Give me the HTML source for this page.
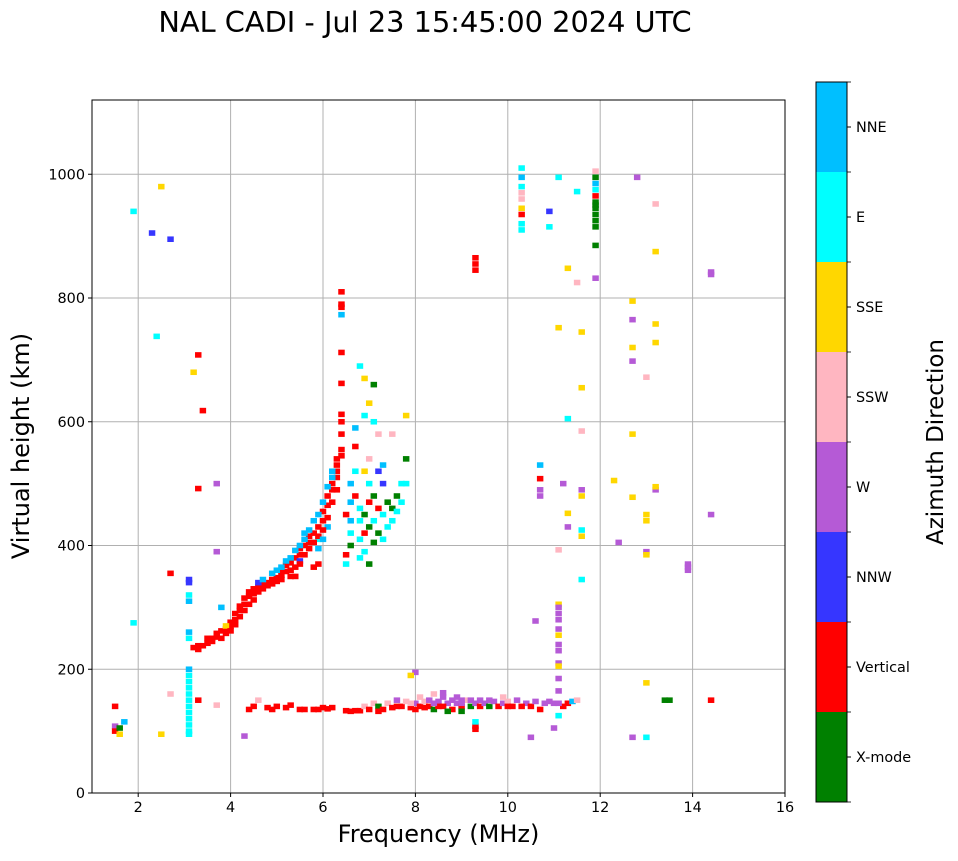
<!DOCTYPE html>
<html><head><meta charset="utf-8"><style>
body{margin:0;background:#fff;font-family:"DejaVu Sans","Liberation Sans",sans-serif}
svg text{font-family:"DejaVu Sans","Liberation Sans",sans-serif}
</style></head><body>
<svg id="chart" width="958" height="857" xmlns="http://www.w3.org/2000/svg">
<text x="425" y="32" font-size="28.8" text-anchor="middle">NAL CADI - Jul 23 15:45:00 2024 UTC</text>
<g id="grid"></g><g id="marks"></g><g id="axes"></g><g id="cbar"></g>
</svg>
<script>
const xTicks=[2,4,6,8,10,12,14,16];
const yTicks=[0,200,400,600,800,1000];
const dirNames=["X-mode","Vertical","NNW","W","SSW","SSE","E","NNE"];
const dirColors=["#008000","#ff0000","#3636ff","#b55ad6","#ffb6c1","#ffd700","#00ffff","#00bfff"];
const freqs=[3.3,3.3,3.4,3.5,3.6,3.6,3.7,3.7,3.8,3.8,3.9,4.0,4.0,4.1,4.1,4.2,4.2,4.3,4.3,4.4,4.4,4.5,4.5,4.6,4.7,4.8,4.9,5.0,5.1,5.1,5.2,5.2,5.3,5.3,5.4,5.4,5.5,5.5,5.6,5.7,5.7,5.8,5.8,5.9,5.9,6.0,6.0,6.1,6.1,6.2,6.2,6.3,6.3,6.4,6.4,6.3,
4.9,5.0,5.2,5.4,5.6,5.8,6.0,6.2,5.5,4.6,5.9,6.1,5.9,
6.4,6.4,6.4,6.4,6.4,6.4,6.4,6.4,6.4,
6.5,6.5,6.6,6.6,6.6,6.5,6.6,6.7,6.6,6.7,6.8,6.8,6.8,6.9,6.9,6.9,7.0,7.0,7.0,7.1,7.1,7.1,7.2,7.2,7.3,7.3,7.3,7.4,7.4,7.5,7.5,7.6,7.6,7.7,7.7,7.8,7.8,6.8,7.0,6.7,6.7,6.9,7.0,7.1,7.2,7.5,7.8,6.9,7.1,6.8,7.0,7.2,6.9,7.3,
1.5,1.5,1.5,1.6,1.7,1.6,1.9,1.9,2.3,2.5,2.7,2.4,2.5,3.1,3.1,3.1,3.1,3.1,3.1,3.1,3.1,3.1,3.1,3.1,3.1,3.1,3.3,3.4,3.3,3.3,3.2,3.7,3.7,3.9,3.8,4.3,3.7,2.7,2.7,
4.4,4.5,4.6,4.8,5.0,5.3,5.5,5.8,6.0,6.2,6.5,6.7,6.8,6.9,7.0,7.1,7.2,7.3,7.4,7.5,7.6,7.7,7.8,7.9,8.0,8.1,8.1,8.2,8.3,8.3,8.4,8.5,8.5,8.6,8.7,8.8,8.9,8.9,9.0,9.1,9.2,9.3,9.4,9.5,9.6,9.7,9.8,9.9,10.0,10.1,10.2,10.4,10.5,10.6,10.7,10.8,11.0,11.2,11.3,11.4,11.5,8.0,7.9,9.9,9.3,9.3,9.3,10.5,11.0,11.1,8.4,8.6,9.0,
9.3,9.3,9.3,10.3,10.3,10.3,10.3,10.3,10.3,10.3,10.3,10.3,11.1,10.9,10.9,11.5,11.9,11.9,11.9,11.9,11.9,11.9,11.9,11.9,11.9,11.9,11.9,12.8,13.2,13.2,11.3,11.5,12.7,12.7,13.2,11.1,11.6,12.7,13.2,12.7,13.0,11.6,14.4,14.4,11.3,11.6,12.7,10.7,10.7,10.7,10.7,11.2,11.6,11.6,12.3,12.7,13.2,13.2,13.0,13.0,14.4,11.3,11.3,11.6,11.6,12.4,13.0,13.0,11.1,13.9,13.9,13.9,11.6,11.1,11.1,11.1,11.1,10.6,11.1,11.1,11.1,11.1,11.1,11.1,11.1,11.1,13.0,13.4,13.5,14.4,12.7,13.0,
3.2,3.5,3.9,4.0,4.1,4.2,4.3,4.4,4.5,4.6,4.7,4.8,4.9,5.0,5.1,5.3,5.4,5.5,5.6,5.7,5.8,5.9,6.0,6.1,6.2,6.3,4.7,5.1,5.3,5.5,5.7,5.9,6.1,6.3,6.2,6.0,5.6,
4.9,5.2,5.6,5.9,6.1,6.6,7.2,7.6,8.0,8.2,8.4,8.6,8.8,9.0,9.2,9.4,9.6,10.0,10.3,10.9,11.1,7.9,8.7,9.0,
3.1,3.1,3.1,3.1,3.1,11.9,11.9];
const heights=[232,238,238,242,245,250,252,258,250,262,265,270,276,280,290,295,302,305,315,318,325,322,330,333,338,340,345,348,352,360,358,368,360,372,350,380,385,395,400,405,415,420,365,430,370,440,455,465,480,490,500,510,530,545,555,520,
355,360,375,392,410,440,470,520,375,340,395,430,410,
810,790,785,712,662,612,580,773,600,
370,385,400,420,440,450,470,480,500,520,410,440,460,390,420,450,470,430,500,405,440,480,420,460,410,450,500,430,470,440,460,455,480,470,500,500,540,380,370,560,590,610,630,600,580,580,610,670,660,690,540,520,520,530,
140,108,100,95,115,105,275,940,905,980,895,738,95,190,170,150,130,110,95,200,250,260,310,320,340,345,708,618,492,150,680,500,390,270,300,92,142,355,160,
135,140,150,138,140,142,135,135,138,138,133,133,133,140,135,145,140,135,145,138,150,140,148,138,145,140,155,148,140,150,135,148,140,155,145,135,145,155,140,150,140,145,140,145,140,148,140,145,148,140,150,145,140,148,135,145,145,140,145,148,150,195,190,155,108,103,115,90,105,125,160,162,150,
865,855,845,1010,995,980,960,945,935,920,910,970,995,940,915,972,1005,995,985,975,965,955,945,935,925,885,832,995,952,875,848,825,795,765,758,752,745,720,728,698,672,655,842,838,605,585,580,530,508,490,480,500,490,480,505,478,490,495,450,440,450,452,430,425,415,405,390,385,393,370,360,365,345,305,300,290,280,278,265,255,240,230,210,205,185,165,178,150,150,150,90,90,
235,250,258,262,272,285,295,305,312,325,330,335,338,342,345,350,365,370,385,395,405,415,425,445,470,490,345,365,380,400,425,450,495,540,510,410,420,
135,138,135,135,136,132,132,140,135,138,145,140,150,145,150,150,150,140,140,148,145,145,132,132,
100,120,140,160,180,915,950];
const dirs=[1,1,1,1,1,1,1,1,1,1,1,1,1,1,1,1,1,1,1,1,1,1,1,1,1,1,1,1,1,1,1,1,1,1,1,1,1,1,1,1,1,1,1,1,1,1,1,1,1,1,1,1,1,1,1,1,
7,7,7,7,7,7,7,7,2,2,7,7,6,
1,1,1,1,1,1,1,7,1,
6,1,0,6,7,1,7,1,7,6,6,6,6,6,1,0,1,0,6,0,6,0,0,1,6,6,2,6,0,6,0,6,0,6,6,6,0,6,0,1,7,6,5,6,4,4,5,5,0,6,4,2,5,7,
1,3,1,5,7,0,6,6,2,5,2,6,5,6,6,6,6,6,6,7,6,7,7,6,2,2,1,1,1,1,5,3,3,5,7,3,4,1,4,
1,1,4,1,1,1,1,1,1,1,1,1,1,4,1,4,0,1,4,1,3,1,4,1,3,1,4,4,1,3,0,3,1,3,3,1,3,3,1,4,0,3,1,3,0,3,1,3,4,1,3,3,1,3,1,3,3,1,1,7,4,3,5,4,1,1,6,3,3,6,4,3,3,
1,1,1,6,7,6,4,5,1,6,6,4,6,2,6,6,4,0,7,6,1,0,0,0,0,0,3,3,4,5,5,4,5,3,5,5,5,5,5,3,4,5,3,3,6,4,5,7,1,3,3,3,3,5,5,5,3,5,5,5,3,5,3,6,5,3,3,5,4,3,3,3,6,5,3,3,3,3,3,5,3,3,3,5,3,3,5,0,0,1,3,6,
1,1,1,1,1,1,1,1,1,1,1,1,1,1,1,1,1,1,1,1,1,1,1,1,1,1,7,7,7,7,7,7,7,1,7,7,7,
1,1,1,1,1,1,1,1,1,1,3,1,3,3,3,3,3,1,1,3,3,4,0,0,
6,6,6,6,6,0,0];
const NS="http://www.w3.org/2000/svg";
const L=92,R=785,T=100,B=793,X0=1,X1=16,Y0=0,Y1=1120;
const sx=v=>L+(v-X0)/(X1-X0)*(R-L);
const sy=v=>B-(v-Y0)/(Y1-Y0)*(B-T);
function mk(tag,attrs,parent){const e=document.createElementNS(NS,tag);for(const k in attrs)e.setAttribute(k,attrs[k]);parent.appendChild(e);return e;}
const grid=document.getElementById('grid'),marks=document.getElementById('marks'),axes=document.getElementById('axes'),cbar=document.getElementById('cbar');
xTicks.forEach(t=>{
 const g=mk('line',{x1:sx(t),x2:sx(t),y1:T,y2:B,stroke:'#b0b0b0','stroke-width':1},grid);
 
 
 const tk=mk('line',{x1:sx(t),x2:sx(t),y1:B,y2:B+4,stroke:'#000'},axes);
 
 
 const tx=mk('text',{x:sx(t),y:B+19,'font-size':14.4,'text-anchor':'middle'},axes);tx.textContent=t;
 
 
});
yTicks.forEach(t=>{
 const g=mk('line',{x1:L,x2:R,y1:sy(t),y2:sy(t),stroke:'#b0b0b0','stroke-width':1},grid);
 
 
 const tk=mk('line',{x1:L-4,x2:L,y1:sy(t),y2:sy(t),stroke:'#000'},axes);
 
 
 const tx=mk('text',{x:L-7,y:sy(t)+5,'font-size':14.4,'text-anchor':'end'},axes);tx.textContent=t;
 
 
});
const cw=sx(1.14)-sx(1), ch=sy(0)-sy(9);
for(let i=0;i<freqs.length;i++){
 const r=mk('rect',{x:sx(freqs[i])-cw/2,y:sy(heights[i])-ch/2,width:cw,height:ch,fill:dirColors[dirs[i]]},marks);
 
 
}
const fr=mk('rect',{x:L,y:T,width:R-L,height:B-T,fill:'none',stroke:'#000','stroke-width':1},axes);


let t1=mk('text',{x:(L+R)/2,y:842,'font-size':24,'text-anchor':'middle'},axes);t1.textContent='Frequency (MHz)';


let t2=mk('text',{x:29,y:446,'font-size':24,'text-anchor':'middle',transform:'rotate(-90 29 446)'},axes);t2.textContent='Virtual height (km)';


const cx=816,cwid=31,ctop=82,cbot=802,seg=(cbot-ctop)/dirNames.length;
dirNames.forEach((n,i)=>{
 const y=cbot-(i+1)*seg;
 const r=mk('rect',{x:cx,y:y,width:cwid,height:seg,fill:dirColors[i]},cbar);
 
 
 const tk=mk('line',{x1:cx+cwid,x2:cx+cwid+4,y1:y+seg/2,y2:y+seg/2,stroke:'#000'},cbar);
 
 
 const tx=mk('text',{x:cx+cwid+9,y:y+seg/2+5,'font-size':14.4},cbar);tx.textContent=n;
 
 
});
for(let i=0;i<=dirNames.length;i++){const y=cbot-i*seg;mk('line',{x1:cx+cwid,x2:cx+cwid+4,y1:y,y2:y,stroke:'#000','stroke-width':0.8},cbar);}
const cf=mk('rect',{x:cx,y:ctop,width:cwid,height:cbot-ctop,fill:'none',stroke:'#000','stroke-width':1},cbar);


let t3=mk('text',{x:943,y:442,'font-size':23,'text-anchor':'middle',transform:'rotate(-90 943 442)'},cbar);t3.textContent='Azimuth Direction';


</script>
</body></html>
